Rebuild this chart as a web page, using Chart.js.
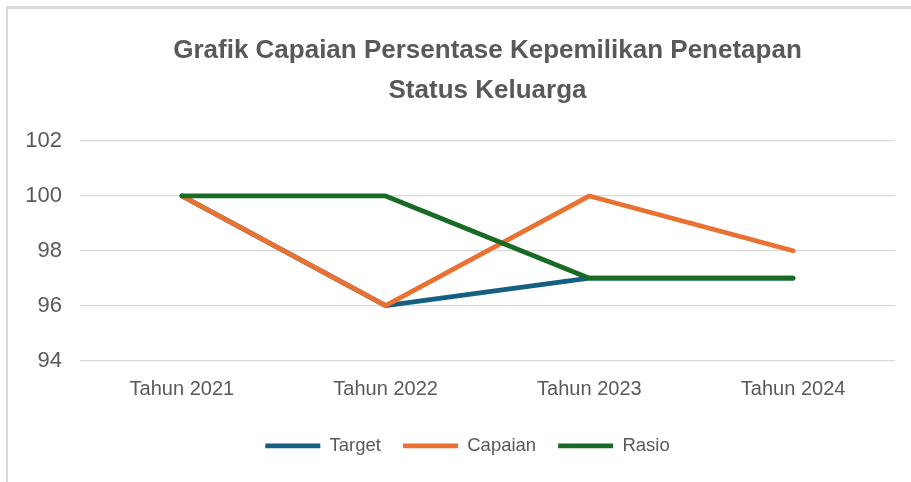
<!DOCTYPE html>
<html>
<head>
<meta charset="utf-8">
<script src="https://cdn.jsdelivr.net/npm/chart.js@4.4.1/dist/chart.umd.min.js"></script>
<style>
  html, body { margin: 0; padding: 0; background: #fff; }
  #wrap { position: relative; width: 911px; height: 482px; }
  #frame {
    position: absolute; left: 6px; top: 6px; right: 0; bottom: 0;
    border-top: 3px solid #d9d9d9; border-left: 2px solid #d9d9d9;
    pointer-events: none;
  }
</style>
</head>
<body>
<div id="wrap">
  <canvas id="capaianChart" width="911" height="482"></canvas>
  <div id="frame"></div>
</div>
<script>
const categories = ["Tahun 2021", "Tahun 2022", "Tahun 2023", "Tahun 2024"];
const targetValues = [100, 96, 97, 97];
const capaianValues = [100, 96, 100, 98];
const rasioValues = [100, 100, 97, 97];
const yTicks = [94, 96, 98, 100, 102];

const titleLines = ["Grafik Capaian Persentase Kepemilikan Penetapan", "Status Keluarga"];

document.addEventListener("DOMContentLoaded", function () {
  const ctx = document.getElementById("capaianChart").getContext("2d");
  const textColor = "#595959";
  const fontFamily = '"Liberation Sans", Arial, sans-serif';

  // order: angka kecil digambar paling atas (Rasio di atas)
  function lineSet(label, data, color, order) {
    return {
      label: label,
      data: data,
      order: order,
      borderColor: color,
      backgroundColor: color,
      borderWidth: 4.75,
      borderCapStyle: "round",
      borderJoinStyle: "round",
      pointRadius: 0,
      pointHoverRadius: 0,
      tension: 0,
    };
  }

  /* ===== geser legend sedikit ke kanan ===== */
  const legendShift = {
    id: "legendShift",
    afterLayout: function (chart) {
      chart.legend.left += 20;
      chart.legend.right += 20;
    },
  };

  new Chart(ctx, {
    type: "line",
    data: {
      labels: categories,
      datasets: [
        lineSet("Target", targetValues, "#156082", 3),
        lineSet("Capaian", capaianValues, "#E97132", 2),
        lineSet("Rasio", rasioValues, "#196B24", 1),
      ],
    },
    plugins: [legendShift],
    options: {
      responsive: false,
      animation: false,
      layout: { padding: { left: 0, right: 16, top: 0, bottom: 17 } },
      scales: {
        x: {
          offset: true,
          grid: { display: false },
          border: { display: false },
          ticks: {
            color: textColor,
            padding: 9,
            font: { family: fontFamily, size: 20 },
          },
          afterFit: function (scale) {
            scale.height = 54;
          },
        },
        y: {
          min: yTicks[0],
          max: yTicks[yTicks.length - 1],
          grid: { color: "#d9d9d9", lineWidth: 1.3, drawTicks: false },
          border: { display: false },
          afterBuildTicks: function (scale) {
            scale.ticks = yTicks.map((v) => ({ value: v }));
          },
          ticks: {
            color: textColor,
            padding: 18,
            font: { family: fontFamily, size: 22 },
          },
          afterFit: function (scale) {
            scale.width = 80;
          },
        },
      },
      plugins: {
        title: {
          display: true,
          fullSize: false,
          text: titleLines,
          color: textColor,
          font: { family: fontFamily, size: 26, weight: "bold", lineHeight: 1.54 },
          padding: { top: 31, bottom: 30 },
        },
        legend: {
          position: "bottom",
          labels: {
            usePointStyle: true,
            pointStyle: "line",
            pointStyleWidth: 55,
            color: textColor,
            padding: 22,
            font: { family: fontFamily, size: 18.5 },
            sort: (a, b) => a.datasetIndex - b.datasetIndex,
          },
        },
        tooltip: { enabled: false },
      },
    },
  });
});
</script>
</body>
</html>
